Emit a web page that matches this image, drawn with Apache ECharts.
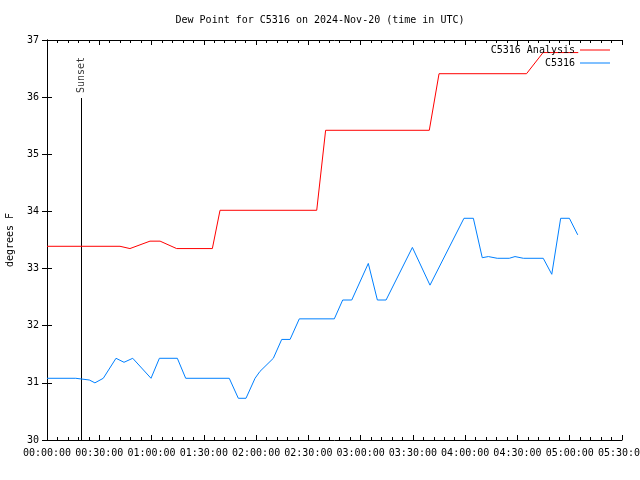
<!DOCTYPE html>
<html><head><meta charset="utf-8">
<script src="https://cdn.jsdelivr.net/npm/echarts@6/dist/echarts.min.js"></script>
<style>html,body{margin:0;padding:0;background:#fff}#c{width:640px;height:480px}</style>
</head><body><div id="c"></div>
<script>
// time in minutes after 00:00:00 UTC
const obsTimes = [0,16.5,24.3,27.5,32.3,39.6,44.2,49.2,59.7,64.5,74.8,79.6,104.6,109.8,114.2,119.4,122.2,129.9,134.7,139.5,144.8,164.9,169.7,174.9,184.4,189.6,194.6,209.7,219.8,239.3,244.7,249.8,253.3,258.4,265.3,268.6,273.4,284.8,289.7,294.8,299.8,304.6];
const obsValues = [31.08,31.08,31.05,31.00,31.08,31.43,31.36,31.43,31.08,31.43,31.43,31.08,31.08,30.73,30.73,31.08,31.2,31.43,31.76,31.76,32.12,32.12,32.45,32.45,33.09,32.45,32.45,33.37,32.71,33.88,33.88,33.19,33.21,33.18,33.18,33.21,33.18,33.18,32.90,33.88,33.88,33.59];
const anaTimes = [0,41.9,47.6,59.1,64.9,74.4,94.9,99.3,154.8,159.9,219.4,225,275.2,284.7,304.9];
const anaValues = [33.39,33.39,33.35,33.48,33.48,33.35,33.35,34.02,34.02,35.42,35.42,36.41,36.41,36.78,36.78];
const sunsetTime = 19.8;
const sunsetTop = 35.985;
const sunsetLabelValue = 36.37;
const xMin = 0, xMax = 330, xStep = 30;
const yMin = 30, yMax = 37, yStep = 1;
const titleText = 'Dew Point for C5316 on 2024-Nov-20 (time in UTC)';
const yName = 'degrees F';
const seriesNames = ['C5316 Analysis', 'C5316'];

const FONT = 'DejaVu Sans Mono';
function fmt(m) {
  const s = Math.round(m * 60);
  const h = Math.floor(s / 3600), mi = Math.floor((s % 3600) / 60), se = s % 60;
  const p = n => String(n).padStart(2, '0');
  return p(h) + ':' + p(mi) + ':' + p(se);
}
const zip = (a, b) => a.map((t, i) => [t, b[i]]);
const axisLine = {show: true, lineStyle: {color: '#000', width: 1}};
const xCommon = {
  type: 'value', min: xMin, max: xMax, interval: xStep,
  axisLine: axisLine,
  axisTick: {show: true, inside: true, length: 5, lineStyle: {color: '#000'}},
  minorTick: {show: true, splitNumber: 5, length: 3, lineStyle: {color: '#000'}},
  splitLine: {show: false}
};
const yCommon = {
  type: 'value', min: yMin, max: yMax, interval: yStep,
  axisLine: axisLine,
  axisTick: {show: true, inside: true, length: 5, lineStyle: {color: '#000'}},
  splitLine: {show: false}
};
const chart = echarts.init(document.getElementById('c'), null, {renderer: 'canvas'});
chart.setOption({
  animation: false,
  backgroundColor: '#fff',
  textStyle: {fontFamily: FONT},
  title: {text: titleText, left: 'center', top: 10,
    textStyle: {fontFamily: FONT, fontSize: 10, fontWeight: 'normal', color: '#000'}},
  legend: {
    data: seriesNames, orient: 'vertical', align: 'right', right: 25, top: 40,
    itemGap: 3, itemWidth: 30, itemHeight: 1, icon: 'rect',
    textStyle: {fontFamily: FONT, fontSize: 10, color: '#000'}
  },
  grid: {left: 47, right: 18, top: 40, bottom: 40, containLabel: false, outerBoundsMode: 'none'},
  xAxis: [
    Object.assign({}, xCommon, {position: 'bottom',
      axisLabel: {show: true, margin: 8, color: '#000', fontFamily: FONT, fontSize: 10, formatter: fmt, showMaxLabel: true}}),
    Object.assign({}, xCommon, {position: 'top', axisLabel: {show: false}})
  ],
  yAxis: [
    Object.assign({}, yCommon, {position: 'left', name: yName, nameLocation: 'middle', nameGap: 32,
      nameTextStyle: {fontFamily: FONT, fontSize: 10, color: '#000'},
      axisLabel: {show: true, margin: 8, color: '#000', fontFamily: FONT, fontSize: 10}}),
    Object.assign({}, yCommon, {position: 'right', axisLabel: {show: false}})
  ],
  series: [
    {name: seriesNames[0], type: 'line', data: zip(anaTimes, anaValues), showSymbol: false, symbol: 'none',
      color: '#ff0000', lineStyle: {color: '#ff0000', width: 1}, z: 3},
    {name: seriesNames[1], type: 'line', data: zip(obsTimes, obsValues), showSymbol: false, symbol: 'none',
      color: '#0080ff', lineStyle: {color: '#0080ff', width: 1}, z: 3},
    {name: 'sunset', type: 'line', data: [[sunsetTime, yMin], [sunsetTime, sunsetTop]], showSymbol: false, symbol: 'none',
      lineStyle: {color: '#000', width: 1}, z: 2},
    {name: 'sunsetLabel', type: 'scatter', data: [[sunsetTime, sunsetLabelValue]], symbolSize: 0,
      label: {show: true, formatter: 'Sunset', rotate: 90, position: 'inside', offset: [1, 0],
        color: '#000', fontFamily: FONT, fontSize: 10}}
  ]
});
</script></body></html>
